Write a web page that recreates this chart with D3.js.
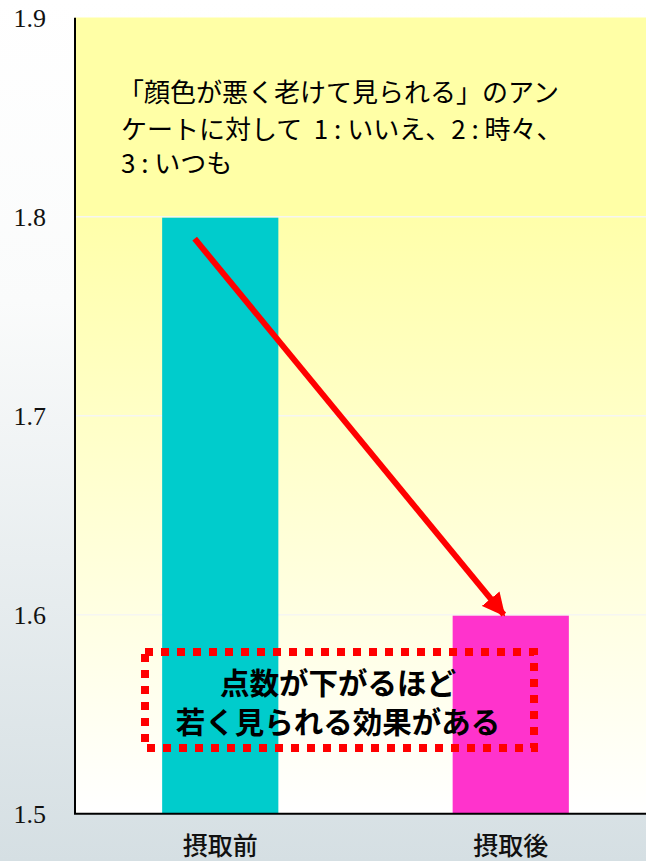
<!DOCTYPE html>
<html lang="ja">
<head>
<meta charset="utf-8">
<script src="https://cdn.jsdelivr.net/npm/d3@7"></script>
<style>
  html, body { margin: 0; padding: 0; background: #fff; }
  svg { display: block; }
</style>
</head>
<body>
<svg id="chart" width="646" height="861"></svg>
<script>
// Survey result: average score before / after intake
const categories = ["摂取前", "摂取後"];
const values = [1.8, 1.6];
const yTicks = [1.5, 1.6, 1.7, 1.8, 1.9];
const tickLabels = ["1.5", "1.6", "1.7", "1.8", "1.9"];
const barColors = ["#00cccc", "#ff33cc"];
const noteLines = [
  "「顔色が悪く老けて見られる」のアン",
  "ケートに対して  1 : いいえ、2 : 時々、",
  "3 : いつも"
];
const calloutLines = ["点数が下がるほど", "若く見られる効果がある"];

const W = 646, H = 861;
const plotLeft = 75, plotRight = 656, plotTop = 17.7, plotBottom = 813.7;

const svg = d3.select("#chart");
const defs = svg.append("defs");

// page background: white fading to pale blue-grey
const bg = defs.append("linearGradient").attr("id", "bgGrad")
  .attr("x1", 0).attr("y1", 0).attr("x2", 0).attr("y2", 1);
bg.append("stop").attr("offset", "0%").attr("stop-color", "#ffffff");
bg.append("stop").attr("offset", "35%").attr("stop-color", "#fafbfb");
bg.append("stop").attr("offset", "100%").attr("stop-color", "#d5dfe3");

// plot area: pale yellow fading to white
const pg = defs.append("linearGradient").attr("id", "plotGrad")
  .attr("gradientUnits", "userSpaceOnUse")
  .attr("x1", 0).attr("y1", 217).attr("x2", 0).attr("y2", plotBottom);
pg.append("stop").attr("offset", "0%").attr("stop-color", "#ffffaa");
pg.append("stop").attr("offset", "100%").attr("stop-color", "#ffffff");

svg.append("rect").attr("width", W).attr("height", H).attr("fill", "url(#bgGrad)");

const x = d3.scaleBand().domain(categories)
  .range([plotLeft, plotRight]).paddingInner(0.6).paddingOuter(0.3);
const y = d3.scaleLinear().domain([1.5, 1.9]).range([plotBottom, plotTop]);

svg.append("rect")
  .attr("x", plotLeft).attr("y", plotTop)
  .attr("width", plotRight - plotLeft).attr("height", plotBottom - plotTop)
  .attr("fill", "url(#plotGrad)");

// solid yellow note band across the top of the plot
svg.append("rect")
  .attr("x", plotLeft).attr("y", y(1.9))
  .attr("width", plotRight - plotLeft).attr("height", y(1.8) - y(1.9))
  .attr("fill", "#ffffa6");

// faint gridlines
svg.append("g").selectAll("line")
  .data(yTicks.filter(d => d > 1.5 && d < 1.9))
  .join("line")
  .attr("x1", plotLeft).attr("x2", plotRight)
  .attr("y1", d => y(d)).attr("y2", d => y(d))
  .attr("stroke", "#f6f6f2").attr("stroke-width", 1.6);

// bars
svg.append("g").selectAll("rect")
  .data(categories)
  .join("rect")
  .attr("x", d => x(d))
  .attr("y", (d, i) => y(values[i]) + 1)
  .attr("width", x.bandwidth())
  .attr("height", (d, i) => y(1.5) - y(values[i]) - 1)
  .attr("fill", (d, i) => barColors[i]);

// axes
const yAxis = d3.axisLeft(y).tickValues(yTicks)
  .tickFormat((d, i) => tickLabels[i]).tickSize(0).tickPadding(29);
const gy = svg.append("g").attr("transform", `translate(${plotLeft},0)`).call(yAxis);
gy.select(".domain").attr("stroke", "#000").attr("stroke-width", 2)
  .attr("d", `M0,${plotTop}V${plotBottom}`);
gy.selectAll("text")
  .attr("font-family", "'Liberation Serif', 'Times New Roman', serif")
  .attr("font-size", 26).attr("fill", "#111");

const xAxis = d3.axisBottom(x).tickSize(0).tickPadding(24);
const gx = svg.append("g").attr("transform", `translate(0,${plotBottom})`).call(xAxis);
gx.select(".domain").attr("stroke", "#000").attr("stroke-width", 2)
  .attr("d", `M${plotLeft - 1},0H${W}`);
gx.selectAll("text")
  .attr("font-family", "'Noto Sans CJK JP', sans-serif")
  .attr("font-size", 25).attr("font-weight", 500).attr("fill", "#111");

// note text in the yellow band
svg.append("g").selectAll("text")
  .data(noteLines)
  .join("text")
  .attr("x", (d, i) => i === 0 ? 118 : 121)
  .attr("y", (d, i) => [102, 139, 173][i])
  .attr("font-family", "'Noto Sans CJK JP', sans-serif")
  .attr("font-size", 26).attr("fill", "#000")
  .style("white-space", "pre")
  .text(d => d);

// red arrow from the first bar top down to the second
defs.append("marker").attr("id", "arrowHead")
  .attr("viewBox", "0 0 10 10").attr("refX", 9).attr("refY", 5)
  .attr("markerUnits", "userSpaceOnUse")
  .attr("markerWidth", 23).attr("markerHeight", 23)
  .attr("orient", "auto")
  .append("path").attr("d", "M0,0L10,5L0,10Z").attr("fill", "#ff0000");

const ax1 = x(categories[0]) + x.bandwidth() * 0.28, ay1 = y(values[0]) + 22;
const ax2 = x(categories[1]) + x.bandwidth() * 0.44, ay2 = y(values[1]);
svg.append("line")
  .attr("x1", ax1).attr("y1", ay1).attr("x2", ax2).attr("y2", ay2)
  .attr("stroke", "#ff0000").attr("stroke-width", 6)
  .attr("marker-end", "url(#arrowHead)");

// dotted callout box
svg.append("rect")
  .attr("x", 145).attr("y", 652).attr("width", 389).attr("height", 96)
  .attr("fill", "none").attr("stroke", "#ff0000").attr("stroke-width", 8)
  .attr("stroke-dasharray", "8 8");

svg.append("g").selectAll("text")
  .data(calloutLines)
  .join("text")
  .attr("x", 338)
  .attr("y", (d, i) => [694, 733][i])
  .attr("text-anchor", "middle")
  .attr("font-family", "'Noto Sans CJK JP', sans-serif")
  .attr("font-size", 29.5).attr("font-weight", 700).attr("fill", "#000")
  .text(d => d);
</script>
</body>
</html>
